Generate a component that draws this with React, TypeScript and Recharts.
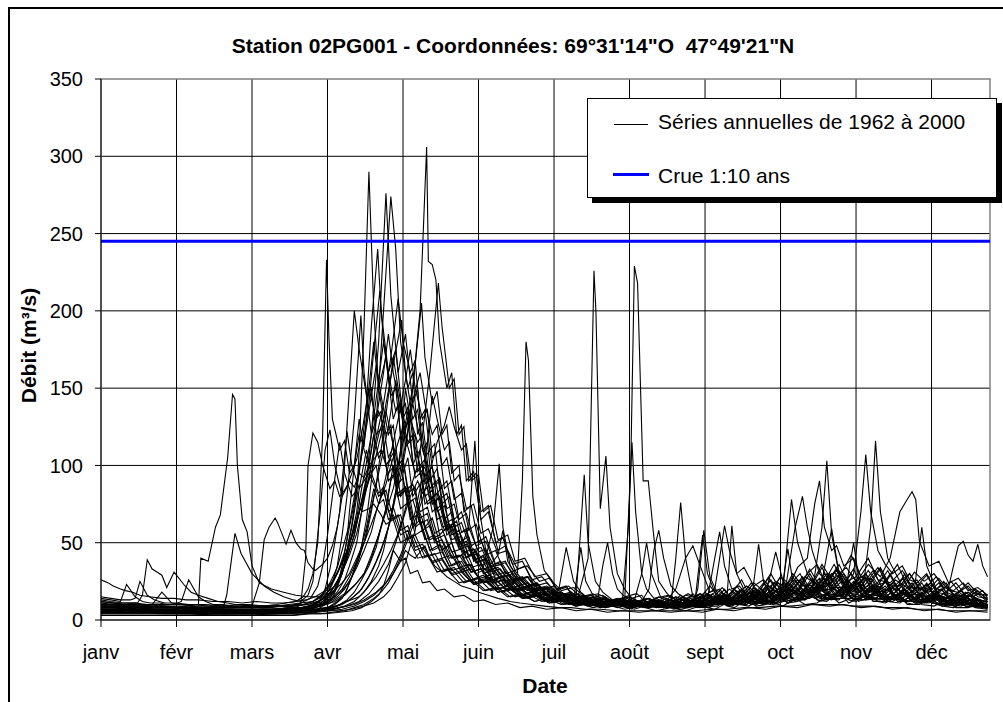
import { LineChart, Line, XAxis, YAxis, CartesianGrid, ReferenceLine, ReferenceArea } from 'recharts'

const FONT = '"Liberation Sans", Arial, Helvetica, sans-serif'

// axis labels / ticks
const monthLabels = ['janv', 'févr', 'mars', 'avr', 'mai', 'juin', 'juil', 'août', 'sept', 'oct', 'nov', 'déc']
const xTicks = [0, 31, 62, 93, 124, 155, 186, 217, 248, 279, 310, 341]
const yTicks = [0, 50, 100, 150, 200, 250, 300, 350]
const crue10 = 245

// daily discharge, as [day, m3/s, day, m3/s, ...]
const y1962 = [0,8, 6,9, 10,7, 16,8, 20,6, 27,7, 32,6, 40,6, 45,5, 52,6, 58,5, 65,5, 70,6, 76,5, 80,6, 85,7, 88,8, 91,12, 94,15, 97,22, 99,30, 101,45, 103,60, 105,80, 106,110, 108,190, 110,290, 112,200, 114,150, 117,170, 120,130, 122,140, 124,95, 126,105, 128,80, 131,88, 133,60, 136,66, 140,45, 144,50, 148,32, 152,36, 156,24, 160,27, 165,18, 170,21, 175,14, 180,16, 185,11, 190,13, 195,10, 200,40, 202.4,226, 203.2,200, 205,72, 207.3,106, 209,60, 212,30, 215,20, 218,14, 222,16, 225,10, 230,12, 235,7, 241,9, 248,8, 253,14, 256,20, 259,13, 262,12, 266,18, 270,11, 275,10, 280,16, 285,12, 290,14, 295,19, 300,30, 303,22, 306,18, 311,24, 315,14, 318,14, 323,20, 327,15, 330,22, 335,16, 340,15, 345,20, 349,13, 352,12, 357,16, 361,11, 364,10]
const y1963 = [0,12, 5,11, 9,10, 14,11, 19,9, 25,9, 30,8, 36,8, 42,7, 48,7, 55,6, 62,7, 68,6, 74,6, 80,7, 85,8, 90,9, 94,13, 97,18, 100,26, 102,35, 105,50, 107,70, 109,90, 111,120, 114,180, 117,276, 119,210, 122,160, 125,185, 128,140, 130,150, 132,110, 135,95, 137,80, 140,86, 143,60, 146,64, 150,40, 154,45, 158,28, 162,31, 166,22, 170,25, 174,17, 178,19, 183,13, 188,15, 192,11, 196,12, 200,10, 205,14, 209,12, 215,12, 217.5,100, 219,229, 220.3,218, 222.6,90, 224.7,90, 226.7,58, 229,25, 232,18, 235,12, 240,14, 245,8, 251,13, 258,9, 263,17, 268,11, 272,12, 276,24, 280,20, 283.5,78, 286,50, 290,30, 294,36, 298,22, 303,28, 307,17, 312,18, 317,26, 321,15, 325,15, 330,30, 333,18, 336,20, 341,24, 345,14, 348,14, 353,19, 358,11, 364,9]
const y1964 = [0,5, 6,6, 11,5, 18,5, 24,4, 31,5, 38,4, 45,4, 52,4, 59,5, 66,4, 72,4, 78,4, 83,5, 86,5, 90,7, 93,8, 97,12, 100,16, 103,28, 106,40, 109,65, 111,90, 114,150, 116,200, 119,274, 121,240, 123,180, 126,150, 128,160, 130,120, 132,128, 135,90, 138,98, 140,75, 143,80, 146,55, 150,58, 153,38, 157,42, 161,25, 165,28, 170,18, 175,20, 180,14, 185,15, 190,10, 196,11, 202,8, 208,10, 215,7, 221,9, 228,6, 234,8, 240,6, 246,9, 252,7, 258,12, 265,10, 270,17, 275,11, 280,12, 285,22, 288,14, 292,20, 296,25, 300,59, 303,30, 306,22, 310,20, 314,28, 317,16, 320,16, 325,22, 329,13, 334,12, 339,18, 343,11, 348,9, 353,14, 358,10, 364,8]
const y1965 = [0,10, 5,10, 10,9, 16,9, 22,8, 28,8, 35,7, 41,8, 48,7, 55,7, 62,6, 68,7, 75,7, 80,8, 85,8, 89,9, 93,10, 97,14, 101,18, 105,24, 108,30, 111,42, 114,55, 117,72, 119,90, 122,100, 124,120, 126,135, 128,150, 131,200, 133.7,306, 134.4,232, 136,230, 137.5,220, 139,180, 142,150, 144,160, 146,120, 148,126, 150,90, 153,96, 156,65, 159,70, 163,45, 166,48, 170,32, 174,35, 178,22, 183,24, 188,16, 193,18, 198,12, 203,14, 208,10, 214,12, 220,9, 226,11, 232,8, 238,10, 245,9, 250,15, 254,10, 258,12, 263,20, 267,13, 270,15, 275,26, 279,16, 282,22, 287,30, 290,20, 292,18, 296,60, 298,103, 300,55, 303,30, 306,34, 310,25, 314,30, 317,20, 320,18, 325,24, 330,16, 335,14, 340,20, 345,13, 350,11, 355,15, 360,11, 364,10]
const y1966 = [0,7, 6,7, 12,6, 18,7, 25,6, 32,6, 40,5, 47,6, 55,5, 62,5, 70,5, 76,6, 82,6, 86,7, 90,9, 93,14, 96,20, 99,32, 101,45, 103,62, 105,85, 107,110, 109,140, 111,190, 113.6,240, 115,200, 118,160, 121,175, 124,130, 126,138, 128,100, 130,108, 133,75, 136,80, 139,55, 142,60, 146,40, 150,44, 154,30, 158,33, 163,22, 167,25, 172,16, 177,18, 182,12, 187,14, 193,10, 199,11, 205,8, 211,10, 218,7, 222,30, 224,50, 226,30, 230,14, 234,16, 238,10, 243,12, 248,9, 253,14, 257,9, 260,8, 265,13, 269,9, 273,10, 278,16, 282,11, 288,15, 292,22, 296,14, 303,13, 307,20, 311,12, 318,16, 322,26, 326,15, 333,18, 337,24, 341,14, 346,13, 350,17, 354,11, 358,10, 364,9]
const y1967 = [0,15, 4,14, 8,13, 12,13, 14,14, 16,25, 19,16, 22,13, 26,11, 31,11, 36,10, 43,10, 50,9, 56,10, 62,9, 67,9, 72,10, 76,11, 80,12, 83,15, 85,20, 87,30, 89,50, 91,120, 92.6,233, 93.6,182, 95,130, 98,110, 100,116, 102,95, 104,100, 106,120, 108,112, 110,150, 113,130, 115,135, 117,100, 120,108, 122,80, 125,86, 128,60, 131,65, 135,45, 139,49, 143,35, 147,38, 152,26, 157,29, 162,20, 167,22, 172,15, 177,17, 183,12, 189,14, 195,10, 201,11, 207,9, 213,12, 220,9, 226,13, 233,10, 238,16, 242,11, 245,12, 250,22, 254,14, 258,15, 263,26, 266,17, 270,18, 275,30, 279,19, 282,16, 288,28, 292,18, 296,22, 301,36, 305,24, 310,28, 315,40, 319,26, 324,24, 329,32, 333,21, 338,20, 343,28, 347,18, 350,16, 356,22, 360,15, 364,14]
const y1968 = [0,9, 5,9, 11,8, 17,8, 23,8, 30,8, 36,7, 43,7, 50,6, 57,7, 64,6, 70,7, 77,7, 82,8, 86,9, 89,11, 92,15, 95,24, 97,35, 99,55, 101,80, 104,130, 106.7,197, 108,160, 111,120, 114,135, 116,125, 118,105, 120,112, 123,80, 126,86, 129,60, 132,64, 136,45, 140,48, 144,35, 148,38, 153,26, 158,28, 163,20, 168,22, 174,15, 179,16, 184,12, 188,20, 191,47, 194,25, 197,18, 200,14, 206,16, 212,10, 218,12, 225,8, 231,10, 238,7, 244,9, 250,8, 255,14, 260,10, 264,10, 268,18, 272,14, 275,30, 277,44, 280,25, 284,18, 290,15, 295,22, 300,14, 305,14, 310,26, 314,17, 320,20, 324,30, 328,18, 335,16, 339,24, 343,14, 350,12, 355,18, 360,11, 364,10]
const y1969 = [0,6, 7,6, 13,6, 20,6, 27,5, 35,5, 42,5, 50,5, 57,5, 64,5, 72,5, 79,6, 85,6, 90,7, 95,8, 99,10, 103,14, 107,20, 110,28, 113,38, 116,50, 119,65, 121,80, 123,92, 125,110, 128,150, 131.6,205, 133,170, 136,140, 138,148, 140,120, 142,126, 144,95, 147,100, 149,70, 152,74, 155,50, 158,54, 162,36, 166,38, 170,26, 175,28, 179,19, 184,20, 188,14, 193,15, 198,11, 204,14, 206,35, 208,50, 210,30, 212,20, 215,15, 220,17, 224,11, 230,13, 235,9, 241,11, 247,8, 252,12, 258,9, 263,15, 267,10, 271,11, 276,18, 280,12, 285,13, 290,20, 294,13, 298,12, 303,18, 307,11, 312,15, 317,22, 321,14, 326,13, 331,19, 335,12, 340,11, 345,16, 349,10, 353,9, 358,12, 364,8]
const y1970 = [0,26, 3,24, 5,22, 8,20, 10,19, 13,18, 16,16, 20,15, 25,14, 30,14, 35,13, 40,13, 46,12, 52,12, 58,11, 64,12, 70,11, 75,11, 80,12, 84,13, 88,15, 92,19, 95,25, 98,34, 101,45, 104,58, 107,75, 110,92, 112,110, 114,125, 116,140, 119,170, 122,208, 124,180, 127,160, 129,168, 131,130, 133,136, 135,110, 137,114, 139,85, 142,90, 145,65, 148,70, 152,48, 156,52, 160,35, 164,38, 169,26, 173,28, 178,20, 183,22, 188,16, 193,17, 198,13, 204,15, 210,11, 216,14, 222,10, 228,13, 234,11, 240,16, 246,14, 250,18, 252,20, 254,40, 256,61, 258,45, 261,30, 264,34, 268,22, 272,26, 276,19, 280,18, 284,30, 288,22, 292,24, 296,36, 300,26, 304,30, 308,42, 312,28, 316,26, 320,34, 324,22, 328,22, 332,30, 336,21, 340,20, 344,27, 348,19, 352,18, 356,24, 360,17, 364,16]
const y1971 = [0,8, 5,8, 10,7, 15,7, 21,7, 27,6, 33,6, 40,6, 46,6, 52,6, 59,6, 65,6, 72,6, 78,7, 83,8, 87,10, 91,14, 94,20, 97,30, 100,44, 102,60, 104,76, 106,95, 108,118, 110,140, 112,175, 114.5,213, 116,180, 119,145, 121,150, 123,120, 125,124, 127,135, 129,112, 131,100, 133,104, 136,75, 139,80, 142,55, 145,59, 149,40, 153,43, 157,30, 161,33, 166,22, 170,24, 175,17, 180,19, 185,13, 190,15, 196,10, 201,12, 207,9, 213,11, 219,8, 222,12, 225,20, 227,45, 229,58, 231,40, 234,22, 237,17, 240,14, 245,16, 252,10, 258,15, 262,10, 266,9, 271,14, 276,10, 280,12, 285,19, 289,13, 292,18, 297,27, 301,16, 305,15, 310,22, 314,13, 320,14, 325,21, 330,13, 334,17, 339,23, 343,14, 348,12, 352,16, 357,11, 364,10]
const y1972 = [0,5, 6,5, 12,5, 19,5, 26,4, 33,4, 40,4, 47,4, 55,4, 62,4, 70,4, 77,5, 84,5, 90,6, 96,7, 101,9, 106,12, 110,17, 114,25, 118,36, 121,50, 124,66, 127,85, 130,100, 132,120, 135,160, 138.5,218, 140,190, 143,150, 145,156, 147,120, 149,125, 151,90, 154,95, 156,70, 159,74, 162,50, 165,53, 169,36, 173,38, 177,26, 181,28, 186,19, 191,21, 196,14, 201,16, 207,11, 213,13, 219,9, 225,12, 230,10, 233,14, 236,20, 240,40, 243,48, 246,35, 250,18, 254,20, 258,12, 262,15, 267,10, 273,13, 280,9, 285,14, 289,10, 294,11, 299,17, 303,11, 308,14, 313,20, 317,12, 322,12, 327,17, 331,10, 336,10, 341,14, 345,9, 350,8, 355,12, 359,8, 364,7]
const y1973 = [0,11, 5,10, 9,10, 14,10, 19,9, 24,9, 30,9, 36,9, 42,8, 48,8, 55,8, 61,8, 67,8, 73,9, 78,9, 83,10, 87,12, 91,16, 94,22, 97,30, 100,40, 103,54, 106,70, 109,85, 112,100, 115,120, 117,140, 120,165, 123.4,194, 125,160, 128,130, 130,136, 132,110, 134,115, 136,85, 139,90, 141,65, 144,70, 147,50, 151,54, 154,37, 158,40, 162,27, 166,29, 171,20, 175,22, 180,16, 185,17, 190,13, 195,14, 197,60, 198.4,94, 200,50, 203,25, 206,18, 210,13, 217,15, 224,9, 230,12, 237,9, 243,13, 249,10, 254,16, 258,11, 261,12, 266,20, 270,13, 273,14, 278,24, 282,16, 286,18, 291,30, 295,19, 298,20, 303,32, 307,22, 310,24, 315,36, 320,28, 324,40, 328,70, 331,78, 333,83, 334.5,78, 336,51, 340,35, 344,38, 348,24, 352,27, 356,19, 360,21, 364,16]
const y1974 = [0,7, 6,7, 12,7, 18,7, 25,6, 31,6, 38,6, 45,6, 52,6, 59,6, 66,6, 72,6, 79,7, 84,7, 88,8, 92,10, 96,12, 100,16, 104,22, 108,30, 111,40, 114,55, 117,70, 120,85, 122,100, 124,115, 126,130, 128,142, 131,160, 133,140, 136,120, 138,126, 140,100, 142,105, 145,78, 148,82, 151,58, 154,62, 158,42, 162,45, 166,30, 170,32, 175,22, 179,24, 184,16, 189,18, 194,12, 199,14, 205,10, 211,12, 218,9, 224,11, 231,8, 237,10, 243,9, 246,11, 249,14, 252,40, 254,57, 256,35, 259,20, 262,22, 266,15, 271,18, 278,12, 283,20, 287,13, 291,14, 296,22, 300,14, 304,16, 309,25, 313,15, 318,14, 323,20, 327,12, 332,12, 337,18, 341,11, 346,10, 351,14, 355,9, 358,9, 364,8]
const y1975 = [0,4, 7,4, 14,4, 22,4, 30,4, 38,4, 46,3, 54,3, 62,3, 70,4, 77,4, 83,4, 89,5, 94,6, 99,7, 104,9, 108,12, 112,16, 116,22, 120,30, 123,40, 126,52, 129,65, 132,78, 134,90, 136,102, 138,115, 141,126, 143,138, 145,125, 148,110, 150,114, 152,90, 155,94, 157,70, 160,74, 163,52, 167,55, 170,38, 174,40, 178,28, 183,30, 187,20, 192,22, 197,15, 202,17, 208,12, 214,14, 220,10, 227,12, 233,9, 240,11, 246,8, 252,12, 259,9, 265,14, 272,10, 278,16, 282,11, 286,12, 291,18, 295,12, 300,14, 305,21, 309,13, 314,13, 319,19, 323,12, 328,11, 333,16, 337,10, 342,9, 347,13, 351,8, 356,8, 360,10, 364,7]
const y1976 = [0,10, 5,10, 10,9, 15,9, 21,8, 27,8, 33,8, 40,8, 46,7, 50,7, 51.6,16, 55,56, 57.5,43, 62,30, 67,22, 71,18, 75,15, 79,13, 82,12, 85,16, 87,25, 90,70, 92,110, 94,123, 96,100, 99,80, 101,86, 103,95, 105,104, 107,120, 110,150, 112,180, 114,150, 117,120, 119,126, 121,95, 123,99, 126,75, 129,79, 132,58, 135,61, 139,45, 143,48, 147,34, 151,36, 156,26, 161,28, 166,20, 171,22, 176,16, 181,18, 186,13, 192,15, 197,11, 202,13, 208,10, 214,13, 219,10, 225,14, 231,9, 237,12, 243,10, 249,17, 255,12, 260,20, 264,13, 267,14, 272,24, 276,15, 279,16, 284,28, 288,18, 291,20, 296,34, 300,21, 303,18, 308,30, 312,20, 315,22, 320,33, 324,21, 327,19, 331,26, 334,20, 337,60, 339,35, 343,20, 347,24, 351,14, 356,18, 360,13, 364,12]
const y1977 = [0,6, 6,6, 12,6, 19,6, 25,5, 32,5, 39,5, 46,5, 53,5, 60,5, 67,5, 73,5, 79,6, 83,7, 87,9, 90,13, 92,20, 94,33, 96,50, 98,70, 99,90, 101,122, 103,100, 106,85, 108,90, 110,95, 112,88, 114,80, 116,84, 119,65, 122,68, 125,52, 128,55, 132,40, 136,42, 140,31, 144,33, 149,24, 153,26, 158,19, 163,21, 168,15, 173,17, 178,12, 183,14, 189,10, 194,12, 200,9, 206,11, 212,8, 218,10, 225,8, 231,11, 238,9, 244,13, 251,10, 256,16, 260,11, 264,12, 269,20, 273,13, 277,15, 282,24, 286,16, 290,18, 295,27, 299,17, 303,16, 306,22, 309,50, 311,28, 315,18, 319,22, 323,14, 326,14, 330,20, 334,12, 339,11, 344,16, 348,11, 352,10, 356,14, 360,10, 364,9]
const y1978 = [0,9, 6,9, 11,8, 17,8, 23,8, 30,8, 36,7, 43,7, 50,7, 57,7, 64,7, 70,7, 77,8, 82,8, 87,9, 91,11, 95,14, 99,19, 102,25, 105,34, 108,45, 111,57, 113,70, 116,86, 118,100, 120,115, 122,130, 125,155, 127,175, 129,150, 132,130, 134,136, 136,105, 139,110, 141,85, 144,90, 147,65, 150,69, 154,48, 158,51, 162,35, 166,37, 171,26, 175,28, 180,19, 185,21, 190,15, 195,17, 200,12, 206,14, 211,10, 217,13, 223,9, 229,12, 236,9, 242,14, 249,10, 254,17, 258,11, 262,11, 267,18, 271,12, 275,13, 278,16, 281,20, 285,60, 288,80, 290,60, 292,45, 295,30, 298,25, 302,32, 306,20, 310,18, 314,26, 318,16, 324,15, 329,22, 333,14, 338,13, 342,19, 346,12, 350,11, 355,15, 359,10, 364,10]
const y1979 = [0,14, 4,13, 8,12, 10.5,23, 14,15, 17,12, 20,11, 24,11, 27,10, 32,10, 38,10, 44,9, 50,9, 56,9, 63,9, 69,9, 75,9, 80,10, 85,10, 89,12, 92,14, 95,20, 98,28, 101,40, 104,55, 106,70, 109,90, 111,110, 113,130, 116,160, 118,185, 120,160, 123,135, 125,140, 127,115, 129,120, 131,95, 133,99, 136,75, 139,79, 142,58, 145,61, 149,44, 153,46, 157,33, 161,35, 166,25, 170,27, 175,19, 180,21, 185,15, 190,17, 195,12, 200,14, 206,11, 212,14, 218,10, 224,14, 230,10, 236,15, 243,11, 248,18, 252,12, 256,13, 261,22, 265,14, 269,16, 274,27, 278,18, 282,20, 286,34, 290,40, 293,75, 295,90, 297,60, 300,45, 302,48, 305,35, 309,40, 312,28, 315,26, 319,34, 323,23, 328,22, 332,30, 336,20, 342,18, 346,25, 350,16, 355,15, 359,20, 364,13]
const y1980 = [0,5, 7,5, 13,5, 20,5, 27,5, 35,5, 42,4, 50,4, 57,4, 65,4, 72,4, 79,5, 85,5, 90,6, 95,7, 100,9, 104,12, 108,18, 111,25, 114,35, 116,45, 118,60, 120,75, 122,92, 123,110, 125,150, 127,130, 130,115, 132,120, 134,95, 136,99, 139,78, 142,82, 145,60, 148,63, 152,45, 156,47, 160,34, 164,36, 169,25, 173,27, 178,19, 183,21, 188,15, 193,17, 198,12, 204,14, 209,10, 215,13, 221,9, 227,11, 233,8, 238,11, 243,10, 245,20, 247.5,58, 250,28, 254,14, 257,16, 260,10, 265,15, 269,10, 272,12, 277,19, 281,12, 285,14, 290,22, 294,15, 298,16, 303,26, 307,16, 311,15, 316,22, 320,14, 324,13, 329,19, 333,12, 338,11, 343,16, 347,10, 351,9, 356,13, 360,9, 364,8]
const y1981 = [0,9, 5,9, 10,8, 15,8, 20,8, 25,8, 30,8, 35,9, 40,10, 41,40, 44,38, 47,60, 49,68, 52,105, 54,146, 55,143, 56,100, 58,65, 60,57, 62,35, 65,24, 70,20, 75,18, 80,16, 85,15, 90,15, 93,18, 96,22, 99,30, 101,40, 104,55, 106,70, 108,85, 110,100, 112,120, 114,105, 116,110, 118,90, 120,94, 123,72, 126,76, 129,55, 132,58, 136,42, 140,44, 144,32, 148,34, 153,24, 158,26, 163,18, 168,20, 174,14, 179,16, 185,12, 191,14, 197,10, 203,12, 210,9, 216,11, 223,8, 229,11, 236,8, 242,12, 249,9, 254,14, 258,10, 262,10, 267,16, 271,11, 276,12, 281,19, 285,13, 290,14, 295,21, 299,15, 304,16, 309,23, 313,15, 318,14, 323,20, 327,13, 332,12, 337,18, 341,11, 346,10, 351,14, 356,10, 364,9]
const y1982 = [0,7, 6,7, 12,6, 19,6, 25,6, 32,6, 39,6, 46,6, 53,6, 60,6, 66,6, 71,7, 76,7, 80,8, 82,10, 84,40, 85,100, 87,121, 89,115, 91,100, 94,85, 96,90, 98,80, 100,84, 102,90, 104,86, 106,95, 108,92, 110,100, 112,104, 115,110, 118,95, 120,99, 122,80, 125,84, 127,65, 130,68, 133,52, 137,55, 140,40, 144,42, 148,31, 152,33, 157,24, 162,26, 167,19, 172,21, 177,15, 182,17, 188,12, 193,14, 199,10, 205,12, 211,9, 217,11, 224,8, 230,11, 237,8, 243,12, 250,9, 255,14, 259,10, 263,10, 268,17, 272,12, 276,12, 281,20, 285,13, 289,14, 294,22, 298,16, 302,17, 307,25, 311,16, 315,15, 320,22, 324,14, 328,13, 333,19, 337,12, 340,12, 344,16, 347,14, 350,35, 352,48, 354,51, 356,42, 358,38, 360,49, 362,35, 364,28]
const y1983 = [0,8, 5,8, 11,8, 16,8, 22,7, 28,7, 34,7, 40,7, 47,7, 54,7, 60,6, 66,7, 73,7, 79,8, 84,8, 89,10, 93,11, 97,15, 100,20, 103,28, 106,40, 109,55, 111,70, 113,88, 115,110, 118,145, 120,170, 122,150, 125,125, 127,130, 129,105, 131,110, 133,88, 135,92, 138,70, 141,74, 144,55, 147,58, 151,42, 154,44, 157,34, 161,60, 163.5,101, 165,60, 168,35, 171,28, 175,22, 179,24, 183,16, 188,18, 192,13, 196,15, 200,11, 205,13, 209,10, 215,13, 221,9, 227,12, 233,9, 239,13, 245,10, 250,16, 254,12, 257,12, 262,19, 266,14, 269,14, 274,22, 278,17, 281,17, 286,26, 290,20, 293,20, 298,30, 302,21, 305,18, 309,30, 312,70, 314,107, 316,70, 319,45, 322,36, 325,30, 329,35, 332,26, 335,24, 339,30, 342,21, 345,19, 349,25, 353,17, 356,15, 360,19, 364,13]
const y1984 = [0,6, 7,6, 13,6, 20,6, 27,5, 34,5, 41,5, 48,5, 56,5, 63,5, 71,5, 78,6, 84,6, 89,7, 94,8, 98,10, 102,13, 106,18, 109,25, 112,34, 115,45, 118,60, 120,75, 122,90, 124,105, 126,122, 128,140, 130,125, 133,105, 135,110, 137,88, 139,92, 142,72, 145,75, 148,57, 151,60, 155,44, 158,46, 160,36, 163,42, 165,58, 167,38, 170,30, 172,26, 176,28, 181,20, 186,22, 191,15, 196,17, 202,12, 207,14, 213,10, 219,13, 225,9, 231,12, 237,9, 243,13, 249,10, 254,15, 258,11, 261,11, 266,18, 270,12, 273,13, 278,20, 282,14, 286,15, 291,23, 295,16, 299,17, 304,25, 308,17, 312,16, 317,23, 321,15, 325,14, 330,20, 334,13, 338,12, 343,17, 347,11, 351,10, 356,14, 360,10, 364,9]
const y1985 = [0,10, 5,10, 10,9, 15,9, 20,9, 25,9, 31,8, 37,8, 43,8, 49,8, 55,8, 61,8, 67,8, 72,9, 78,9, 83,10, 87,12, 91,17, 94,24, 97,34, 99,45, 102,62, 104,80, 106,98, 108,115, 111,145, 113,165, 115,145, 118,120, 120,126, 122,100, 124,104, 126,82, 129,86, 131,66, 134,69, 137,52, 141,55, 144,40, 148,42, 152,31, 156,33, 161,24, 165,26, 168,20, 171,30, 173,90, 174.5,180, 175.5,168, 177.3,80, 179,55, 182,32, 185,26, 187,20, 191,22, 194,14, 198,16, 202,12, 207,14, 211,10, 217,13, 222,9, 228,12, 234,9, 240,14, 246,10, 251,17, 255,11, 258,11, 263,19, 267,13, 270,13, 275,22, 279,15, 282,15, 287,26, 291,18, 294,18, 299,30, 303,19, 306,16, 311,28, 315,18, 318,20, 323,32, 327,20, 330,17, 335,26, 339,16, 342,15, 347,22, 351,14, 354,13, 359,18, 364,12]
const y1986 = [0,5, 6,5, 12,5, 18,5, 25,5, 32,4, 39,4, 46,4, 53,4, 60,4, 67,4, 73,5, 80,5, 85,6, 89,7, 92,10, 95,14, 97,22, 99,35, 101,52, 102,70, 104,100, 106,130, 108,110, 111,95, 113,100, 115,80, 117,84, 120,65, 123,68, 126,52, 129,55, 133,41, 137,43, 141,32, 145,34, 150,25, 155,27, 160,19, 165,21, 170,15, 175,17, 181,12, 186,14, 192,10, 198,12, 204,9, 210,11, 216,8, 222,10, 228,8, 234,10, 240,8, 244,14, 247,55, 249,30, 253,14, 256,16, 260,10, 264,10, 269,16, 273,11, 276,12, 281,19, 285,13, 288,14, 293,21, 297,14, 300,13, 305,19, 309,13, 312,15, 317,22, 321,14, 324,13, 329,18, 333,12, 336,11, 341,16, 345,11, 348,10, 353,14, 357,9, 364,9]
const y1987 = [0,13, 4,12, 9,11, 12,11, 15,11, 17,16, 19,39, 21,33, 23,31, 25,29, 27,21, 30,31, 34.5,22, 37,18, 40,16, 44,14, 48,12, 52,11, 55,10, 61,10, 67,9, 73,9, 78,9, 82,11, 86,14, 89,22, 91,35, 93,55, 95,80, 98,115, 100,95, 103,80, 105,84, 107,70, 110,72, 112,75, 115,68, 117,62, 120,65, 123,50, 126,53, 130,40, 134,42, 138,31, 142,33, 147,24, 152,26, 157,19, 162,21, 167,15, 172,17, 178,12, 183,14, 189,10, 195,12, 201,9, 207,12, 213,9, 219,13, 226,9, 232,14, 238,10, 243,17, 247,11, 250,12, 255,21, 259,14, 262,14, 267,24, 271,16, 274,16, 279,28, 283,19, 286,19, 291,33, 295,22, 298,22, 303,36, 307,23, 310,20, 315,32, 319,23, 322,24, 327,36, 331,22, 334,20, 339,29, 343,18, 346,17, 351,24, 355,16, 358,15, 362,19, 364,14]
const y1988 = [0,7, 6,7, 12,6, 18,6, 25,6, 32,6, 39,6, 46,6, 53,5, 60,5, 67,5, 74,5, 81,6, 87,6, 93,7, 98,8, 104,10, 108,13, 113,18, 117,24, 120,32, 123,42, 126,55, 129,70, 131,85, 134,115, 136,145, 138,130, 141,110, 143,115, 145,90, 147,94, 150,72, 153,75, 156,56, 159,59, 163,43, 167,45, 171,33, 175,35, 180,25, 184,27, 189,19, 194,21, 199,15, 204,17, 210,12, 216,15, 221,10, 227,13, 233,9, 239,13, 245,9, 250,14, 254,10, 257,10, 262,16, 266,11, 269,11, 274,18, 278,13, 281,13, 286,20, 290,14, 293,15, 298,24, 302,16, 305,17, 310,25, 314,17, 317,16, 322,22, 326,14, 329,14, 334,20, 338,13, 341,12, 346,17, 350,11, 353,10, 358,14, 364,9]
const y1989 = [0,6, 6,6, 12,6, 18,6, 25,5, 31,5, 38,5, 45,5, 52,5, 59,5, 66,5, 72,5, 79,5, 84,6, 89,6, 93,7, 97,9, 101,13, 104,18, 107,26, 110,35, 113,47, 115,60, 117,72, 118,82, 120,100, 122,88, 124,92, 126,75, 128,78, 131,62, 134,65, 137,50, 140,52, 144,40, 148,42, 152,31, 156,33, 161,24, 165,26, 170,19, 175,21, 180,15, 185,17, 190,12, 195,14, 201,10, 206,12, 212,9, 218,11, 224,8, 230,10, 236,8, 242,11, 248,9, 253,13, 257,10, 260,10, 264,14, 267,12, 270,49, 272,25, 276,14, 280,17, 284,13, 289,19, 293,14, 296,15, 301,21, 305,14, 308,14, 313,20, 317,13, 320,13, 325,18, 329,12, 332,12, 337,17, 341,11, 344,11, 349,15, 353,10, 356,10, 360,13, 364,9]
const y1990 = [0,8, 5,8, 11,7, 17,7, 23,7, 29,7, 36,6, 42,6, 49,6, 56,6, 63,6, 70,6, 76,6, 82,7, 87,7, 92,8, 97,9, 101,12, 106,15, 109,20, 113,28, 116,36, 119,45, 122,56, 124,65, 127,80, 130,90, 132,82, 134,86, 136,70, 138,73, 141,58, 144,61, 147,47, 150,49, 154,37, 158,39, 162,29, 166,31, 171,22, 175,24, 180,17, 185,19, 190,13, 194,12, 197,47, 199,25, 203,13, 207,15, 211,10, 217,13, 222,9, 228,12, 234,8, 240,12, 246,9, 251,14, 255,10, 258,10, 263,16, 267,12, 270,12, 275,19, 279,14, 282,14, 287,21, 291,16, 294,16, 299,24, 303,16, 306,15, 311,22, 315,15, 318,14, 323,20, 327,14, 330,13, 335,18, 339,13, 342,12, 347,16, 351,12, 354,11, 359,14, 364,10]
const y1991 = [0,9, 5,9, 10,9, 16,9, 21,8, 27,8, 33,8, 40,8, 46,7, 52,7, 59,7, 66,7, 72,7, 78,8, 83,8, 88,9, 92,11, 96,15, 99,20, 102,28, 105,38, 108,50, 110,65, 112,80, 114,95, 116,110, 118,125, 121,155, 123,135, 126,115, 128,120, 130,96, 132,100, 135,78, 138,82, 141,62, 144,65, 148,48, 151,60, 153.5,116, 155,75, 158,45, 161,36, 165,28, 169,30, 174,21, 179,23, 184,16, 189,18, 194,13, 199,15, 205,11, 210,13, 216,10, 222,13, 228,9, 234,13, 240,10, 246,15, 252,11, 256,12, 261,19, 265,13, 268,13, 273,22, 277,15, 280,15, 285,26, 289,18, 292,18, 297,30, 301,21, 304,21, 309,33, 313,19, 316,19, 321,28, 325,16, 328,16, 333,24, 337,14, 340,14, 345,20, 349,12, 352,12, 357,16, 364,11]
const y1992 = [0,11, 5,11, 10,10, 15,10, 21,10, 25,18, 29,11, 33,10, 38,9, 43,9, 48,9, 53,9, 57,8, 63,8, 69,8, 75,9, 80,9, 85,10, 89,12, 93,16, 96,22, 99,31, 102,42, 105,56, 107,70, 109,85, 111,100, 114,120, 117,135, 119,120, 122,100, 124,104, 126,85, 128,88, 131,70, 134,73, 137,56, 140,59, 144,44, 148,46, 152,34, 156,36, 161,26, 165,28, 170,20, 175,22, 180,16, 185,18, 190,13, 195,15, 200,11, 206,14, 211,10, 217,13, 222,10, 228,14, 233,10, 239,15, 244,11, 249,16, 253,12, 257,14, 259,61, 261,30, 265,16, 269,20, 273,15, 277,16, 282,24, 286,17, 288,18, 293,27, 297,19, 300,20, 305,30, 309,21, 312,22, 317,32, 321,20, 324,19, 329,27, 333,17, 336,16, 341,23, 345,15, 348,14, 353,19, 357,13, 364,12]
const y1993 = [0,4, 7,4, 14,4, 22,4, 30,4, 38,4, 46,3, 54,3, 62,3, 70,3, 78,3, 84,4, 90,4, 95,5, 100,6, 104,8, 108,10, 112,14, 115,18, 118,24, 120,30, 123,38, 125,45, 127,42, 129,40, 131,44, 133,48, 135,40, 137,35, 140,31, 142,28, 145,25, 148,22, 152,20, 155,18, 159,16, 163,14, 168,12, 172,11, 177,10, 182,9, 188,8, 193,8, 199,7, 205,7, 212,6, 218,6, 225,6, 231,6, 238,6, 244,6, 251,7, 257,7, 264,8, 270,8, 277,9, 283,9, 290,10, 296,10, 303,10, 309,9, 316,9, 322,8, 329,8, 335,7, 342,7, 348,6, 356,6, 364,6]
const y1994 = [0,7, 6,7, 11,7, 17,6, 23,6, 30,6, 36,6, 43,6, 50,6, 57,6, 64,6, 70,6, 77,6, 82,7, 87,8, 91,10, 94,14, 97,21, 99,30, 101,42, 103,55, 105,70, 106,85, 109,110, 111,95, 114,82, 116,86, 118,70, 120,73, 123,58, 126,61, 129,47, 132,49, 136,38, 140,40, 144,30, 148,32, 153,23, 158,25, 163,18, 168,20, 173,14, 178,16, 184,11, 189,13, 195,9, 201,11, 207,8, 213,10, 219,8, 225,11, 231,8, 237,12, 243,9, 248,14, 252,10, 255,10, 260,15, 264,11, 267,12, 272,18, 276,13, 279,14, 282,46, 284,25, 288,16, 292,20, 296,14, 300,15, 304,21, 308,14, 312,14, 317,20, 321,13, 324,13, 329,18, 333,12, 336,12, 341,16, 345,11, 348,10, 353,14, 357,10, 364,9]
const y1995 = [0,12, 5,11, 9,11, 14,11, 19,10, 25,10, 30,10, 33,12, 36,26, 40,15, 43,12, 46,10, 50,10, 54,9, 60,9, 66,9, 72,9, 77,10, 82,11, 87,12, 91,15, 95,18, 99,24, 102,30, 105,40, 108,50, 111,62, 114,75, 117,88, 119,100, 122,115, 124,125, 126,112, 129,95, 131,99, 133,80, 136,84, 138,65, 141,68, 144,52, 148,54, 151,41, 155,43, 159,32, 163,34, 168,25, 172,27, 177,19, 182,21, 187,15, 192,17, 197,13, 202,15, 208,11, 214,14, 219,10, 225,14, 230,10, 236,15, 241,11, 246,17, 252,12, 258,20, 263,14, 268,24, 274,16, 279,28, 286,19, 290,30, 294,20, 298,22, 302,34, 306,22, 310,20, 314,30, 318,19, 322,18, 326,26, 330,22, 334,31, 338,25, 342,30, 346,21, 350,19, 354,24, 358,17, 364,16]
const y1996 = [0,8, 5,8, 11,8, 16,8, 22,7, 28,7, 34,7, 40,7, 47,7, 54,7, 60,6, 66,7, 72,7, 78,8, 83,8, 87,10, 91,12, 94,17, 97,25, 100,36, 102,50, 105,66, 107,85, 109,102, 111,120, 114,155, 116,180, 118,160, 121,135, 123,140, 125,112, 127,116, 129,92, 131,95, 134,75, 137,78, 140,60, 143,62, 147,46, 151,48, 155,35, 159,37, 164,27, 168,29, 173,21, 178,23, 183,16, 188,18, 193,13, 198,15, 204,11, 209,13, 214,11, 216.5,60, 218,115, 219.5,70, 222,30, 224,20, 227,14, 233,16, 239,10, 245,15, 251,11, 256,17, 260,12, 263,13, 268,21, 272,14, 275,15, 280,24, 284,16, 287,17, 292,27, 296,19, 299,20, 304,30, 308,20, 311,18, 316,27, 320,17, 323,16, 328,23, 332,15, 335,14, 340,20, 344,13, 347,12, 352,17, 356,11, 364,10]
const y1997 = [0,5, 6,5, 13,5, 20,5, 27,5, 34,5, 42,4, 49,4, 57,4, 64,4, 72,4, 79,5, 86,5, 92,6, 98,6, 103,7, 108,9, 112,11, 116,15, 119,20, 122,28, 125,37, 127,48, 129,58, 130,70, 133,95, 135,85, 137,89, 138,72, 140,75, 142,60, 145,63, 147,49, 150,51, 153,39, 157,41, 160,31, 164,33, 168,24, 172,26, 177,19, 182,21, 186,15, 191,17, 196,12, 201,14, 206,10, 212,12, 217,9, 223,11, 229,8, 235,11, 241,8, 246,12, 250,9, 253,9, 258,14, 262,10, 265,10, 270,15, 274,11, 277,11, 282,17, 286,13, 289,13, 294,19, 298,14, 301,14, 306,20, 310,14, 313,13, 318,18, 322,12, 325,12, 330,17, 334,11, 337,11, 342,15, 346,10, 349,10, 354,13, 358,9, 364,9]
const y1998 = [0,10, 5,10, 10,9, 15,9, 21,9, 27,9, 33,8, 40,8, 46,8, 51,8, 56,8, 59,9, 62,9, 65,24, 67,52, 69,60, 71.5,66, 72.5,63, 74,57, 76,49, 78,58, 80,50, 82,46, 83.5,45, 85,37, 87,33, 88,32, 91,36, 93,40, 95,48, 97,60, 99,80, 100,100, 102,150, 104,200, 106,175, 109,145, 111,150, 113,120, 115,124, 117,100, 119,104, 122,82, 125,86, 128,66, 131,69, 135,52, 139,55, 143,40, 147,42, 152,31, 156,33, 161,24, 166,26, 171,19, 176,21, 181,15, 186,17, 191,13, 196,15, 202,11, 207,14, 213,10, 218,14, 224,10, 229,15, 235,11, 241,17, 247,12, 253,19, 259,14, 265,22, 271,16, 277,25, 283,19, 289,28, 295,22, 301,31, 307,20, 310,24, 313,22, 316,60, 318,116, 320,70, 323,40, 325,34, 328,25, 332,30, 336,20, 340,18, 344,24, 348,16, 352,14, 356,18, 360,13, 364,12]
const y1999 = [0,6, 6,6, 12,6, 18,6, 25,6, 31,6, 38,5, 45,5, 52,5, 59,5, 66,5, 72,5, 79,5, 84,6, 89,6, 93,8, 96,10, 99,14, 101,20, 103,28, 105,38, 107,48, 109,60, 112,85, 114,75, 116,78, 118,65, 120,68, 123,55, 126,58, 129,45, 132,47, 136,37, 140,39, 144,29, 148,31, 153,23, 158,25, 163,18, 168,20, 173,14, 178,16, 184,11, 189,13, 195,9, 201,11, 207,8, 213,10, 219,7, 225,10, 231,8, 234,10, 236,40, 238,76, 240,40, 243,15, 246,17, 250,10, 255,14, 258,10, 262,10, 267,15, 271,11, 274,11, 279,16, 283,12, 286,14, 291,19, 295,14, 298,13, 303,18, 307,13, 310,12, 315,17, 319,12, 322,11, 327,15, 331,11, 334,10, 339,14, 343,10, 346,9, 351,12, 355,9, 364,8]
const y2000 = [0,3, 7,3, 15,3, 23,3, 31,3, 39,3, 47,3, 55,3, 63,3, 71,3, 79,3, 86,4, 92,4, 98,5, 103,6, 107,8, 111,12, 114,16, 116,22, 118,32, 120,45, 123,38, 125,40, 127,30, 130,32, 132,24, 135,25, 138,19, 141,20, 145,15, 149,16, 153,12, 157,13, 162,10, 167,11, 172,8, 177,9, 183,7, 189,8, 195,6, 201,7, 208,5, 214,6, 221,5, 227,6, 234,5, 240,6, 247,5, 253,7, 260,6, 266,8, 273,7, 279,9, 286,8, 292,10, 299,9, 305,10, 312,8, 318,9, 325,7, 331,8, 338,6, 344,7, 351,5, 357,6, 364,5]

const annualSeries = [
  y1962, y1963, y1964, y1965, y1966, y1967, y1968, y1969, y1970, y1971,
  y1972, y1973, y1974, y1975, y1976, y1977, y1978, y1979, y1980, y1981,
  y1982, y1983, y1984, y1985, y1986, y1987, y1988, y1989, y1990, y1991,
  y1992, y1993, y1994, y1995, y1996, y1997, y1998, y1999, y2000,
]

function toPoints(flat: number[]) {
  const pts: { d: number; q: number }[] = []
  for (let i = 0; i < flat.length; i += 2) pts.push({ d: flat[i], q: flat[i + 1] })
  return pts
}

const tickStyle = { fill: '#000', fontSize: 20, fontFamily: FONT }

export default function App() {
  return (
    <div style={{ position: 'fixed', left: 0, top: 0, width: 1003, height: 702, overflow: 'hidden', background: '#fff', fontFamily: FONT, color: '#000' }}>
      {/* outer chart frame, only its top and left edges are on screen */}
      <div style={{ position: 'absolute', left: 8, top: 7, width: 1100, height: 800, border: '2px solid #000' }} />

      <div style={{ position: 'absolute', left: 0, top: 0 }}>
        <LineChart width={1003} height={702} margin={{ top: 79, right: 13, bottom: 32, left: 31 }}>
          <CartesianGrid
            stroke="#000"
            strokeWidth={1}
            horizontalValues={[50, 100, 150, 200, 250, 300]}
            verticalValues={xTicks.slice(1)}
          />
          <ReferenceArea x1={0} x2={365} y1={0} y2={350} fill="none" stroke="#808080" strokeWidth={1.5} />
          <XAxis
            type="number"
            dataKey="d"
            domain={[0, 365]}
            ticks={xTicks}
            tickFormatter={(v: number) => monthLabels[xTicks.indexOf(v)]}
            height={50}
            tick={tickStyle}
            tickSize={7}
            tickMargin={18}
            stroke="#000"
            allowDataOverflow
          />
          <YAxis
            type="number"
            domain={[0, 350]}
            ticks={yTicks}
            width={70}
            tick={tickStyle}
            tickSize={6}
            tickMargin={12}
            stroke="#000"
            allowDataOverflow
          />
          {annualSeries.map((s, i) => (
            <Line
              key={1962 + i}
              data={toPoints(s)}
              dataKey="q"
              type="linear"
              stroke="#000"
              strokeWidth={1.1}
              dot={false}
              activeDot={false}
              isAnimationActive={false}
            />
          ))}
          <ReferenceLine y={crue10} stroke="#0000ff" strokeWidth={3} />
        </LineChart>
      </div>

      {/* title */}
      <div style={{ position: 'absolute', left: 0, top: 35, width: 1026, textAlign: 'center', fontSize: 21, lineHeight: '21px', fontWeight: 'bold', whiteSpace: 'pre' }}>
        {'Station 02PG001 - Coordonnées: 69°31\'14"O  47°49\'21"N'}
      </div>

      {/* axis titles */}
      <div style={{ position: 'absolute', left: 28 - 100, top: 345 - 10.5, width: 200, height: 21, lineHeight: '21px', textAlign: 'center', fontSize: 21, fontWeight: 'bold', transform: 'rotate(-90deg)' }}>
        Débit (m³/s)
      </div>
      <div style={{ position: 'absolute', left: 445, top: 675, width: 200, lineHeight: '21px', textAlign: 'center', fontSize: 21, fontWeight: 'bold' }}>
        Date
      </div>

      {/* legend */}
      <div style={{ position: 'absolute', left: 587, top: 98, width: 410, height: 100, boxSizing: 'border-box', border: '1px solid #000', background: '#fff', boxShadow: '5px 5px 0 #000' }} />
      <div style={{ position: 'absolute', left: 614, top: 123.5, width: 34, height: 1, background: '#000' }} />
      <div style={{ position: 'absolute', left: 613, top: 172.5, width: 36, height: 3, background: '#0000ff' }} />
      <div style={{ position: 'absolute', left: 658, top: 110.5, fontSize: 21, lineHeight: '21px', whiteSpace: 'pre' }}>
        Séries annuelles de 1962 à 2000
      </div>
      <div style={{ position: 'absolute', left: 658, top: 165, fontSize: 21, lineHeight: '21px', whiteSpace: 'pre' }}>
        Crue 1:10 ans
      </div>
    </div>
  )
}
